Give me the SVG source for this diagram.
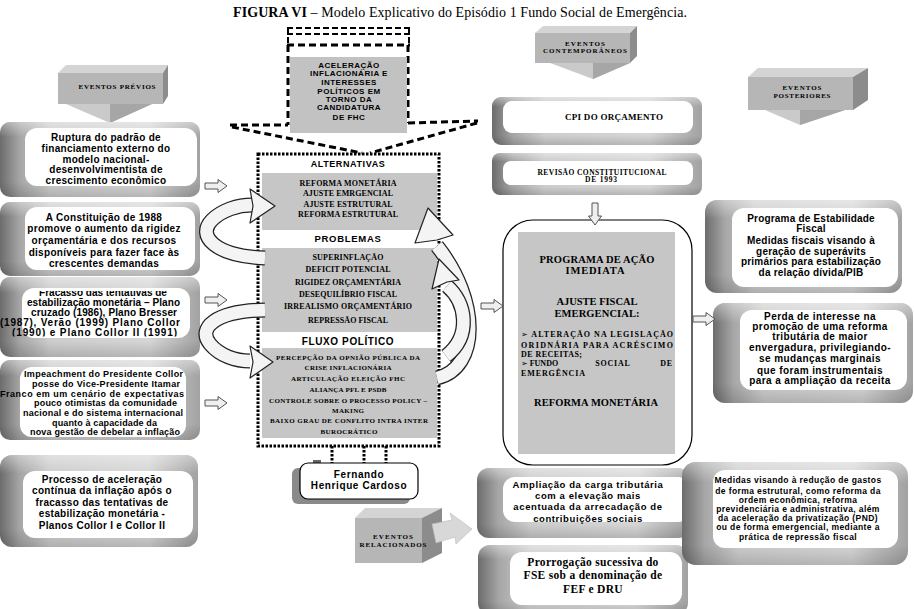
<svg xmlns="http://www.w3.org/2000/svg" width="914" height="609" viewBox="0 0 914 609">
<defs>
<style>
.sa{font-family:"Liberation Sans",Arial,sans-serif;font-weight:bold;fill:#000}
.ss{font-family:"Liberation Serif","Times New Roman",serif;font-weight:bold;fill:#000}
.c{text-anchor:middle}
.fr{fill:url(#frg)}
.frv{fill:url(#frv)}
.in{fill:#fff}
.gray{fill:#c6c6c6}
.blk{fill:#efefef;stroke:#555;stroke-width:1}
.ro{fill:none;stroke:#222;stroke-width:15}
.ri{fill:none;stroke:#f4f4f4;stroke-width:12.5}
.rh{fill:#f4f4f4;stroke:#222;stroke-width:1.2;stroke-linejoin:round}
.dot{fill:none;stroke:#000;stroke-width:3;stroke-dasharray:2.5 1.5}
.dsh{fill:none;stroke:#000;stroke-width:3;stroke-dasharray:7 4}
.dsh2{fill:none;stroke:#000;stroke-width:2;stroke-dasharray:6 3}
.l10{font-size:10px;letter-spacing:0.3px}
.l9{font-size:9px}
.top{fill:#d4d4d4}
.front{fill:#b6b6b6}
.side{fill:#8c8c8c}
.arL{fill:#cacaca}
.arD{fill:#a6a6a6}
.ev{font-size:7px}
.bul{font-family:"DejaVu Sans",sans-serif;font-size:8px;font-weight:normal}
</style>
<linearGradient id="frg" x1="0" x2="1" y1="0" y2="0">
<stop offset="0" stop-color="#6c6c6c"/>
<stop offset="0.1" stop-color="#a6a6a6"/>
<stop offset="0.25" stop-color="#cdcdcd"/>
<stop offset="0.75" stop-color="#d6d6d6"/>
<stop offset="1" stop-color="#a2a2a2"/>
</linearGradient>
<linearGradient id="frv" x1="0" x2="0" y1="0" y2="1">
<stop offset="0" stop-color="#fff" stop-opacity="0.4"/>
<stop offset="0.2" stop-color="#fff" stop-opacity="0"/>
<stop offset="0.8" stop-color="#000" stop-opacity="0"/>
<stop offset="1" stop-color="#000" stop-opacity="0.15"/>
</linearGradient>
<path id="ba" d="M0,-3 H13 V-6.5 L22,0 L13,6.5 V3 H0 Z"/>
<clipPath id="cpF"><rect x="0" y="291" width="200" height="45.5"/></clipPath>
</defs>
<rect width="914" height="609" fill="#fff"/>

<text x="460" y="17" class="c" font-family="Liberation Serif,'Times New Roman',serif" font-size="14" textLength="454" lengthAdjust="spacing"><tspan font-weight="bold">FIGURA VI</tspan> – Modelo Explicativo do Episódio 1 Fundo Social de Emergência.</text>

<!-- EVENTOS PRÉVIOS -->
<g id="eventos-previos">
<polygon class="top" points="58,73 66,65 168,65 163,73"/>
<polygon class="side" points="163,73 168,65 168,96 163,104"/>
<rect class="front" x="58" y="73" width="105" height="31"/>
<polygon class="arL" points="66,104 152,104 110,123"/>
<polygon class="arD" points="110,104 152,104 110,123"/>
<text x="117" y="89" class="ss c ev" textLength="77" lengthAdjust="spacing">EVENTOS PRÉVIOS</text>
</g>

<!-- left column -->
<g id="ruptura">
<rect class="fr" x="0" y="122" width="200" height="75" rx="10"/>
<rect class="frv" x="0" y="122" width="200" height="75" rx="10"/>
<rect class="in" x="25" y="128" width="172" height="58" rx="12"/>
<g class="sa c l10">
<text x="106" y="140.5">Ruptura do padrão de</text>
<text x="106" y="151.5">financiamento externo do</text>
<text x="106" y="162.5">modelo nacional-</text>
<text x="106" y="172.5">desenvolvimentista de</text>
<text x="106" y="183.5">crescimento econômico</text>
</g>
</g>

<g id="constituicao">
<rect class="fr" x="0" y="202" width="200" height="74" rx="10"/>
<rect class="frv" x="0" y="202" width="200" height="74" rx="10"/>
<rect class="in" x="25" y="207" width="170" height="63" rx="12"/>
<g class="sa c l10">
<text x="104" y="220.5">A Constituição  de 1988</text>
<text x="104" y="232.2">promove o  aumento da rigidez</text>
<text x="104" y="243.9">orçamentária e dos recursos</text>
<text x="104" y="255.6">disponíveis para fazer face às</text>
<text x="104" y="267.3">crescentes demandas</text>
</g>
</g>

<g id="fracasso">
<rect class="fr" x="0" y="277" width="200" height="80" rx="10"/>
<rect class="frv" x="0" y="277" width="200" height="80" rx="10"/>
<rect class="in" x="22" y="288" width="168" height="50" rx="12"/>
<g class="sa" font-size="10" clip-path="url(#cpF)">
<text x="103" y="295.5" class="c">Fracasso das tentativas de</text>
<text x="27" y="305.8" textLength="153" lengthAdjust="spacing">estabilização monetária – Plano</text>
<text x="31" y="315.8" textLength="146" lengthAdjust="spacing">cruzado (1986), Plano  Bresser</text>
<text x="0" y="325.9" textLength="180" lengthAdjust="spacing">(1987), Verão (1999) Plano  Collor</text>
<text x="12" y="336" textLength="165" lengthAdjust="spacing">(1990) e   Plano Collor II (1991)</text>
</g>
</g>

<g id="impeachment">
<rect class="fr" x="0" y="360" width="200" height="80" rx="10"/>
<rect class="frv" x="0" y="360" width="200" height="80" rx="10"/>
<rect class="in" x="20" y="367" width="166" height="70" rx="12"/>
<g class="sa l9">
<text x="24" y="376.5" textLength="159" lengthAdjust="spacing">Impeachment do Presidente Collor</text>
<text x="32" y="386.5" textLength="148" lengthAdjust="spacing">posse do Vice-Presidente  Itamar</text>
<text x="0" y="396.5" textLength="184" lengthAdjust="spacing">Franco em um cenário de expectativas</text>
<text x="34" y="406" textLength="143" lengthAdjust="spacing">pouco otimistas da comunidade</text>
<text x="23" y="416" textLength="160" lengthAdjust="spacing">nacional e  do sistema internacional</text>
<text x="52" y="426" textLength="105" lengthAdjust="spacing">quanto à capacidade da</text>
<text x="30" y="435" textLength="150" lengthAdjust="spacing">nova gestão de debelar a inflação</text>
</g>
</g>

<g id="processo">
<rect class="fr" x="0" y="455" width="198" height="92" rx="12"/>
<rect class="frv" x="0" y="455" width="198" height="92" rx="12"/>
<rect class="in" x="23" y="471" width="170" height="67" rx="12"/>
<g class="sa c l10">
<text x="102" y="482.5">Processo de aceleração</text>
<text x="102" y="494">contínua da inflação  após o</text>
<text x="102" y="505.5">fracasso das tentativas de</text>
<text x="102" y="517">estabilização monetária  -</text>
<text x="102" y="528.5">Planos   Collor I  e Collor II</text>
</g>
</g>

<!-- top dashed arrow -->
<g id="aceleracao">
<line class="dsh2" x1="287" y1="28" x2="410" y2="28"/>
<line class="dsh2" x1="287" y1="34" x2="410" y2="34"/>
<line class="dsh" x1="287" y1="45" x2="410" y2="45"/>
<line class="dsh2" x1="288" y1="28" x2="288" y2="45"/>
<line class="dsh2" x1="409" y1="28" x2="409" y2="45"/>
<line class="dsh" x1="288" y1="45" x2="288" y2="125"/>
<line class="dsh" x1="408" y1="45" x2="408" y2="123"/>
<line class="dsh" x1="230" y1="125" x2="288" y2="125"/>
<line class="dsh" x1="408" y1="123" x2="478" y2="121"/>
<line class="dsh" x1="232" y1="127" x2="362" y2="153"/>
<line class="dsh" x1="477" y1="123" x2="370" y2="153"/>
<rect x="290" y="57" width="117" height="76" fill="#c2c2c2"/>
<g class="sa c" font-size="8" letter-spacing="0.5">
<text x="349" y="68">ACELERAÇÃO</text>
<text x="349" y="76.3">INFLACIONÁRIA E</text>
<text x="349" y="84.7">INTERESSES</text>
<text x="349" y="93.7">POLÍTICOS EM</text>
<text x="349" y="102">TORNO DA</text>
<text x="349" y="110.3">CANDIDATURA</text>
<text x="349" y="119.7">DE FHC</text>
</g>
</g>

<!-- central box -->
<g id="central">
<rect class="gray" x="262" y="173" width="175" height="57"/>
<rect class="gray" x="262" y="248" width="175" height="84"/>
<rect class="gray" x="262" y="348" width="175" height="90"/>
<rect class="dot" x="258" y="154" width="181" height="292"/>
<text x="348" y="166.5" class="sa c" font-size="9" letter-spacing="0.6">ALTERNATIVAS</text>
<g class="ss c" font-size="8">
<text x="348" y="186" textLength="97" lengthAdjust="spacing">REFORMA MONETÁRIA</text>
<text x="348" y="196" textLength="90" lengthAdjust="spacing">AJUSTE EMRGENCIAL</text>
<text x="348" y="206.8" textLength="89" lengthAdjust="spacing">AJUSTE ESTRUTURAL</text>
<text x="348" y="217" textLength="100" lengthAdjust="spacing">REFORMA ESTRUTURAL</text>
</g>
<text x="348" y="241.5" class="sa c" font-size="9.5" letter-spacing="0.7">PROBLEMAS</text>
<g class="ss c" font-size="8">
<text x="348" y="259.5" textLength="71" lengthAdjust="spacing">SUPERINFLAÇÃO</text>
<text x="348" y="271.8" textLength="85" lengthAdjust="spacing">DEFICIT POTENCIAL</text>
<text x="348" y="284.5" textLength="106" lengthAdjust="spacing">RIGIDEZ ORÇAMENTÁRIA</text>
<text x="348" y="296.8" textLength="98" lengthAdjust="spacing">DESEQUILÍBRIO FISCAL</text>
<text x="348" y="308.8" textLength="128" lengthAdjust="spacing">IRREALISMO  ORÇAMENTÁRIO</text>
<text x="348" y="322.8" textLength="80" lengthAdjust="spacing">REPRESSÃO FISCAL</text>
</g>
<text x="348" y="345.3" class="sa c" font-size="10" letter-spacing="0.6">FLUXO POLÍTICO</text>
<g class="ss c" font-size="7">
<text x="348" y="359.8" textLength="144" lengthAdjust="spacing">PERCEPÇÃO DA OPNIÃO PÚBLICA  DA</text>
<text x="348" y="370.2" textLength="87" lengthAdjust="spacing">CRISE INFLACIONÁRIA</text>
<text x="348" y="380.8" textLength="114" lengthAdjust="spacing">ARTICULAÇÃO ELEIÇÃO FHC</text>
<text x="348" y="391.5" textLength="77" lengthAdjust="spacing">ALIANÇA PFL E PSDB</text>
<text x="348" y="402.5" textLength="158" lengthAdjust="spacing">CONTROLE SOBRE O PROCESSO POLICY –</text>
<text x="348" y="412.5" textLength="32" lengthAdjust="spacing">MAKING</text>
<text x="349" y="423.2" textLength="158" lengthAdjust="spacing">BAIXO  GRAU DE CONFLITO INTRA INTER</text>
<text x="349" y="433.5" textLength="57" lengthAdjust="spacing">BUROCRÁTICO</text>
</g>
</g>

<g id="fhc">
<rect x="292" y="468" width="118" height="36" rx="6" fill="#8a8a8a"/>
<rect x="313" y="460" width="8" height="6" fill="#666"/>
<rect x="300" y="463" width="118" height="36" rx="8" fill="#fff" stroke="#000" stroke-width="1.2"/>
<text x="359" y="477.5" class="sa c" font-size="10" letter-spacing="0.6">Fernando</text>
<text x="359" y="489" class="sa c" font-size="10" letter-spacing="0.6">Henrique Cardoso</text>
</g>

<!-- right column -->
<g id="eventos-contemporaneos">
<polygon class="top" points="535,33 543,26 637,26 630,33"/>
<polygon class="side" points="630,33 637,26 637,56 630,63"/>
<rect class="front" x="535" y="33" width="95" height="30"/>
<polygon class="arL" points="550,63 630,63 593,79"/>
<polygon class="arD" points="593,63 630,63 593,79"/>
<text x="585" y="45.5" class="ss c ev" textLength="40" lengthAdjust="spacing">EVENTOS</text>
<text x="585" y="52.5" class="ss c ev" textLength="84" lengthAdjust="spacing">CONTEMPORÂNEOS</text>
</g>

<g id="cpi">
<rect class="fr" x="492" y="97" width="210" height="48" rx="9"/>
<rect class="frv" x="492" y="97" width="210" height="48" rx="9"/>
<rect class="in" x="503" y="101" width="190" height="32" rx="9"/>
<text x="614" y="120" class="ss c" font-size="9" textLength="98" lengthAdjust="spacing">CPI DO ORÇAMENTO</text>
</g>

<g id="revisao">
<rect class="fr" x="492" y="153" width="210" height="42" rx="8"/>
<rect class="frv" x="492" y="153" width="210" height="42" rx="8"/>
<rect class="in" x="503" y="161" width="190" height="24" rx="8"/>
<text x="602" y="174.5" class="ss c" font-size="7.5" textLength="129" lengthAdjust="spacing">REVISÃO CONSTITUITUCIONAL</text>
<text x="601" y="182" class="ss c" font-size="7.5" textLength="32" lengthAdjust="spacing">DE 1993</text>
</g>

<g id="programa-acao">
<rect x="503" y="220" width="189" height="245" rx="30" fill="#fff" stroke="#000" stroke-width="1.2"/>
<rect class="gray" x="518" y="232" width="157" height="222"/>
<g class="ss c">
<text x="597" y="263" font-size="10.5" textLength="115" lengthAdjust="spacing">PROGRAMA DE AÇÃO</text>
<text x="595" y="273.5" font-size="10.5" textLength="59" lengthAdjust="spacing">IMEDIATA</text>
<text x="597" y="305.2" font-size="10.5" textLength="81" lengthAdjust="spacing">AJUSTE FISCAL</text>
<text x="597" y="316.8" font-size="10.5" textLength="85" lengthAdjust="spacing">EMERGENCIAL:</text>
<text x="596" y="406.2" font-size="10.5" textLength="124" lengthAdjust="spacing">REFORMA MONETÁRIA</text>
</g>
<g class="ss" font-size="8">
<text x="521" y="337" textLength="152" lengthAdjust="spacing"><tspan class="bul">➢</tspan> ALTERAÇÃO NA LEGISLAÇÃO</text>
<text x="521" y="348" textLength="152" lengthAdjust="spacing">ORIDNÁRIA PARA ACRÉSCIMO</text>
<text x="521" y="357.3" textLength="61" lengthAdjust="spacing">DE RECEITAS;</text>
<text x="521" y="366.3"><tspan class="bul">➢</tspan> FUNDO</text>
<text x="613" y="366.3" class="c" letter-spacing="0.8">SOCIAL</text>
<text x="673" y="366.3" text-anchor="end" letter-spacing="0.8">DE</text>
<text x="521" y="376.3" textLength="64" lengthAdjust="spacing">EMERGÊNCIA</text>
</g>
</g>

<g id="eventos-posteriores">
<polygon class="top" points="748,77 758,68 868,68 853,77"/>
<polygon class="side" points="853,77 868,68 868,100 853,110"/>
<rect class="front" x="748" y="77" width="105" height="33"/>
<polygon class="arL" points="765,110 845,110 800,125"/>
<polygon class="arD" points="800,110 845,110 800,125"/>
<text x="802" y="89.5" class="ss c ev" textLength="39" lengthAdjust="spacing">EVENTOS</text>
<text x="802" y="97.5" class="ss c ev" textLength="57" lengthAdjust="spacing">POSTERIORES</text>
</g>

<g id="estabilidade">
<rect class="fr" x="705" y="200" width="197" height="93" rx="12"/>
<rect class="frv" x="705" y="200" width="197" height="93" rx="12"/>
<rect class="in" x="732" y="208" width="166" height="79" rx="12"/>
<g class="sa c" font-size="10" letter-spacing="0.2">
<text x="811" y="221.8">Programa de Estabilidade</text>
<text x="811" y="231.8">Fiscal</text>
<text x="811" y="244.2">Medidas fiscais visando à</text>
<text x="811" y="255.2">geração de superávits</text>
<text x="811" y="265.2">primários para estabilização</text>
<text x="811" y="276.2">da relação dívida/PIB</text>
</g>
</g>

<g id="perda">
<rect class="fr" x="713" y="303" width="200" height="100" rx="12"/>
<rect class="frv" x="713" y="303" width="200" height="100" rx="12"/>
<rect class="in" x="740" y="310" width="167" height="80" rx="12"/>
<g class="sa c" font-size="10" letter-spacing="0.4">
<text x="820" y="319.5">Perda de interesse na</text>
<text x="820" y="329.5">promoção de uma reforma</text>
<text x="820" y="340">tributária de maior</text>
<text x="820" y="351">envergadura, privilegiando-</text>
<text x="820" y="362">se  mudanças marginais</text>
<text x="820" y="373.5">que foram instrumentais</text>
<text x="820" y="384">para a ampliação da  receita</text>
</g>
</g>

<g id="ampliacao">
<rect class="fr" x="477" y="468" width="213" height="70" rx="12"/>
<rect class="frv" x="477" y="468" width="213" height="70" rx="12"/>
<rect class="in" x="503" y="477" width="187" height="45" rx="12"/>
<g class="sa c" font-size="9.5" letter-spacing="0.6">
<text x="588" y="487.5">Ampliação da carga  tributária</text>
<text x="588" y="498.5">com a elevação mais</text>
<text x="588" y="510">acentuada da arrecadação de</text>
<text x="588" y="521.5">contribuições sociais</text>
</g>
</g>

<g id="prorrogacao">
<rect class="fr" x="478" y="545" width="210" height="70" rx="12"/>
<rect class="frv" x="478" y="545" width="210" height="70" rx="12"/>
<rect class="in" x="510" y="552" width="172" height="53" rx="12"/>
<g class="ss c" font-size="11.5" letter-spacing="0.3">
<text x="593" y="565.5">Prorrogação sucessiva do</text>
<text x="593" y="579">FSE sob a denominação de</text>
<text x="593" y="592.5">FEF e DRU</text>
</g>
</g>

<g id="medidas">
<rect class="fr" x="682" y="462" width="226" height="103" rx="14"/>
<rect class="frv" x="682" y="462" width="226" height="103" rx="14"/>
<rect class="in" x="713" y="470" width="185" height="78" rx="12"/>
<g class="sa c" font-size="8.5" letter-spacing="0.4">
<text x="798" y="483">Medidas visando à redução de gastos</text>
<text x="798" y="493.7">de forma estrutural, como reforma da</text>
<text x="798" y="503">ordem econômica,  reforma</text>
<text x="798" y="512">previdenciária e administrativa, além</text>
<text x="798" y="521.3">da aceleração da privatização (PND)</text>
<text x="798" y="530.3">ou de forma emergencial, mediante a</text>
<text x="798" y="539.7">prática de repressão  fiscal</text>
</g>
</g>

<g id="eventos-relacionados">
<polygon class="top" points="355,518 365,508 442,508 422,518"/>
<polygon class="side" points="422,518 442,508 442,553 422,563"/>
<rect class="front" x="355" y="518" width="67" height="45"/>
<polygon fill="#d8d8d8" stroke="#bbb" stroke-width="0.6" points="432,524 452,520 450,513 472,529 456,544 455,537 436,543"/>
<text x="393" y="538.5" class="ss c ev" textLength="40" lengthAdjust="spacing">EVENTOS</text>
<text x="393" y="546.5" class="ss c ev" textLength="67" lengthAdjust="spacing">RELACIONADOS</text>
</g>

<!-- connectors -->
<g id="connectors">
<use href="#ba" class="blk" x="205" y="186"/>
<use href="#ba" class="blk" x="205" y="300"/>
<use href="#ba" class="blk" x="205" y="403"/>
<use href="#ba" class="blk" x="481" y="306"/>
<use href="#ba" class="blk" x="693" y="319"/>
<use href="#ba" class="blk" transform="translate(595,203) rotate(90)"/>
<line x1="332" y1="446" x2="332" y2="463" stroke="#000" stroke-width="3" stroke-dasharray="2.5 1.5"/>
<line x1="364" y1="446" x2="364" y2="463" stroke="#000" stroke-width="3" stroke-dasharray="2.5 1.5"/>
<line x1="386" y1="446" x2="386" y2="463" stroke="#000" stroke-width="3" stroke-dasharray="2.5 1.5"/>

<path class="ro" d="M265,258 C215,256 196,236 212,220 C222,210 238,205 252,205"/>
<path class="ri" d="M265,258 C215,256 196,236 212,220 C222,210 238,205 252,205"/>
<polygon class="rh" points="250,189 275,206 250,223 253,206"/>

<path class="ro" d="M265,310 C215,311 197,328 210,344 C220,356 236,361 250,361"/>
<path class="ri" d="M265,310 C215,311 197,328 210,344 C220,356 236,361 250,361"/>
<polygon class="rh" points="250,346 273,362 250,378 253,362"/>

<path class="ro" d="M437,378 C480,368 480,300 437,246"/>
<path class="ri" d="M437,378 C480,368 480,300 437,246"/>
<polygon class="rh" points="415,243 428,208 453,235 437,240"/>

<path class="ro" d="M446,356 C472,336 466,302 447,286"/>
<path class="ri" d="M446,356 C472,336 466,302 447,286"/>
<polygon class="rh" points="432,289 439,259 459,280 447,282"/>
</g>
</svg>
